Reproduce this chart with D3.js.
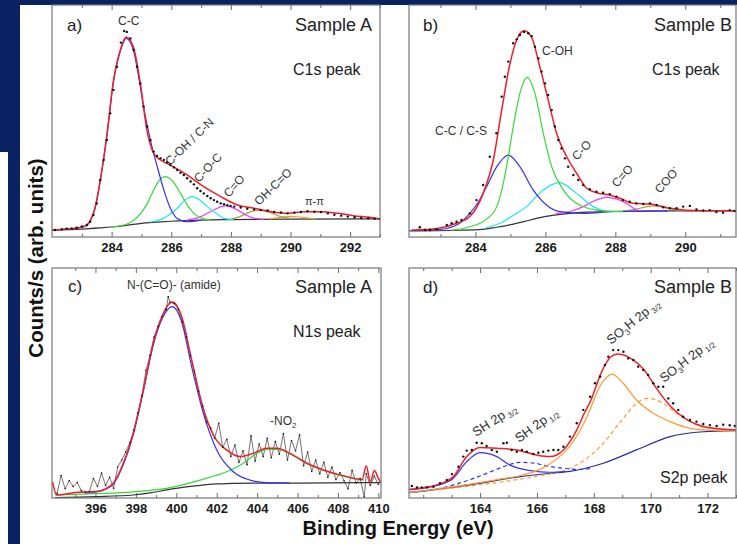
<!DOCTYPE html>
<html>
<head>
<meta charset="utf-8">
<script src="https://cdn.jsdelivr.net/npm/d3@7"></script>
<style>
  body { margin: 0; background: #fff; }
  svg { display: block; font-family: "Liberation Sans", Arial, sans-serif; }
</style>
</head>
<body>
<div id="chart"></div>
<script>
"use strict";

// ---- panel a : C1s, sample A ----
const aTicks = [284, 286, 288, 290, 292];
const aMinor = [283, 285, 287, 289, 291, 293];
const aDots = [[282.10,3.0],[282.33,3.3],[282.49,3.6],[282.66,3.7],[282.83,4.0],[283.0,4.5],[283.17,5.2],[283.28,6.6],[283.39,9.5],[283.50,14.5],[283.62,24.6],[283.73,33.2],[283.84,41.8],[283.95,53.3],[284.06,63.4],[284.18,73.4],[284.31,83.8],[284.42,88.8],[284.51,88.4],[284.63,85.6],[284.74,80.6],[284.85,73.4],[284.96,66.2],[285.07,56.2],[285.19,47.6],[285.30,41.8],[285.41,36.8],[285.52,34.9],[285.64,33.9],[285.75,33.2],[285.86,32.2],[285.97,31.0],[286.09,30.0],[286.20,28.9],[286.31,27.7],[286.42,26.7],[286.53,25.3],[286.65,23.9],[286.76,22.7],[286.87,21.0],[286.98,19.8],[287.09,18.8],[287.21,17.7],[287.32,16.7],[287.43,15.9],[287.54,15.2],[287.66,14.5],[287.77,14.1],[287.88,13.7],[287.99,13.4],[288.11,13.1],[288.33,12.7],[288.55,12.2],[288.78,11.9],[289.0,11.6],[289.23,11.4],[289.45,10.8],[289.68,10.6],[289.90,10.2],[290.13,10.5],[290.35,10.8],[290.57,11.1],[290.80,10.9],[291.02,10.8],[291.25,10.2],[291.47,9.6],[291.70,9.2],[291.92,8.8],[292.15,8.5],[292.37,8.2],[292.60,8.1],[292.82,7.9],[292.99,7.8]];
const aEnvelope = [[282.0,3.0],[282.5,3.4],[282.9,4.0],[283.15,5.0],[283.3,7.5],[283.45,13.0],[283.62,24.6],[283.85,44.8],[284.05,66.4],[284.29,80.6],[284.49,86.2],[284.73,81.9],[284.96,66.4],[285.19,45.5],[285.41,36.1],[285.64,33.2],[285.97,31.0],[286.54,26.7],[287.09,21.7],[287.66,17.4],[288.22,13.8],[288.78,12.4],[289.34,10.9],[289.9,10.2],[290.46,10.9],[291.02,10.9],[291.59,10.2],[292.15,9.1],[292.65,8.5],[293.0,7.8]];
const aBackground = [[282.0,3.0],[283.0,3.4],[283.6,3.9],[284.0,4.3],[284.5,5.0],[285.0,5.9],[285.5,6.4],[286.0,6.8],[287.0,7.3],[288.0,7.5],[290.0,7.7],[293.0,7.8]];
const aCC = [[282.0,3.0],[282.84,3.9],[283.15,4.9],[283.3,7.3],[283.45,12.6],[283.62,24.4],[283.85,44.5],[284.05,66.0],[284.29,80.0],[284.49,85.6],[284.73,80.5],[284.96,64.8],[285.07,56.2],[285.3,41.8],[285.53,30.3],[285.75,20.3],[285.97,12.4],[286.2,8.0],[286.54,6.6],[287.0,7.3]];
const aCOH = [[284.0,4.3],[284.5,5.5],[284.96,10.0],[285.2,14.5],[285.41,20.3],[285.6,24.5],[285.8,26.0],[286.05,24.0],[286.31,18.8],[286.55,13.5],[286.76,10.2],[287.0,8.2],[287.3,7.4]];
const aCOC = [[285.3,6.4],[285.8,8.5],[286.2,12.4],[286.45,15.8],[286.7,17.4],[286.95,16.0],[287.21,13.1],[287.5,10.2],[287.77,8.0],[288.1,7.4]];
const aCO = [[286.5,7.2],[287.0,8.8],[287.4,11.5],[287.82,13.4],[288.2,11.8],[288.5,9.5],[288.8,8.0],[289.1,7.6]];
const aOHCO = [[287.9,7.4],[288.3,8.8],[288.65,10.8],[288.95,11.6],[289.3,10.6],[289.7,8.7],[290.0,8.0]];
const aPiPi = [[289.3,7.7],[289.7,8.6],[290.0,8.9],[290.4,8.5],[290.8,7.9]];

// ---- panel b : C1s, sample B ----
const bTicks = [284, 286, 288, 290];
const bMinor = [283, 285, 287, 289, 291];
const bDots = [[282.41,4.2],[282.56,3.0],[282.70,3.0],[282.89,3.3],[283.18,5.2],[283.32,5.9],[283.46,6.6],[283.60,7.3],[283.84,10.2],[284.03,15.9],[284.22,22.4],[284.41,34.6],[284.60,44.7],[284.75,60.5],[284.84,69.1],[284.94,75.6],[285.08,83.5],[285.18,85.2],[285.27,87.1],[285.39,88.4],[285.51,87.8],[285.61,86.6],[285.70,82.0],[285.80,77.0],[285.89,71.3],[285.99,66.2],[286.08,61.2],[286.18,54.7],[286.27,47.6],[286.37,41.8],[286.46,38.2],[286.56,33.9],[286.65,30.3],[286.80,26.7],[286.94,24.6],[287.08,22.4],[287.27,20.6],[287.46,19.5],[287.65,19.1],[287.84,18.5],[288.03,17.4],[288.22,15.9],[288.41,15.2],[288.60,14.5],[288.80,14.2],[288.99,14.5],[289.18,13.8],[289.37,12.8],[289.56,12.4],[289.75,12.4],[289.94,13.1],[290.13,13.4],[290.32,11.9],[290.51,11.4],[290.70,11.6],[290.89,10.8],[291.08,10.5],[291.27,11.6],[291.41,11.2]];
const bEnvelope = [[282.18,3.0],[282.9,3.7],[283.46,5.9],[283.84,8.8],[284.22,18.8],[284.51,33.2],[284.75,54.7],[284.99,74.9],[285.22,86.3],[285.39,88.9],[285.6,86.3],[285.84,73.4],[286.08,59.1],[286.32,44.7],[286.61,34.6],[286.89,27.5],[287.18,21.0],[287.46,19.1],[287.84,18.1],[288.13,16.7],[288.51,14.5],[288.99,14.2],[289.56,12.4],[290.51,11.3],[291.45,11.3]];
const bBackground = [[282.1,2.6],[283.5,2.9],[284.2,3.3],[284.6,4.2],[285.0,5.3],[285.4,6.7],[285.75,8.0],[286.2,9.3],[286.7,10.2],[287.2,10.7],[287.65,10.9],[288.5,11.2],[291.45,11.3]];
const bCCCS = [[282.2,2.8],[283.0,3.3],[283.5,5.5],[283.84,10.2],[284.1,15.5],[284.32,21.7],[284.61,30.3],[284.94,35.3],[285.27,30.3],[285.65,20.3],[286.03,13.8],[286.41,10.9],[287.08,10.2],[288.0,11.0],[289.5,11.3]];
const bCOH = [[283.3,2.9],[283.84,4.4],[284.3,7.5],[284.61,13.1],[284.75,20.0],[284.89,30.3],[285.08,47.5],[285.27,61.9],[285.48,68.8],[285.7,61.9],[285.94,44.7],[286.18,30.3],[286.51,20.3],[286.89,14.5],[287.46,11.6],[288.22,10.9]];
const bCO = [[284.3,4.0],[284.79,6.6],[285.1,9.5],[285.46,13.1],[285.94,20.3],[286.41,23.4],[286.89,18.8],[287.37,13.1],[287.84,10.9],[288.3,10.9]];
const bCdO = [[286.3,10.1],[286.7,11.0],[287.08,13.1],[287.4,15.6],[287.75,17.1],[288.05,16.3],[288.32,14.5],[288.61,11.6],[288.89,11.0],[289.3,11.2]];
const bCOO = [[288.2,11.0],[288.6,12.0],[289.08,13.4],[289.5,12.4],[289.9,11.4],[290.2,11.3]];

// ---- panel c : N1s, sample A ----
const cTicks = [396, 398, 400, 402, 404, 406, 408, 410];
const cMinor = [395, 397, 399, 401, 403, 405, 407, 409];
const cRaw = [[394.1,2.0],[394.3,9.8],[394.5,4.0],[394.7,7.5],[394.9,5.0],[395.1,6.8],[395.3,3.2],[395.5,2.5],[395.7,2.8],[395.9,8.5],[396.1,5.0],[396.3,10.8],[396.5,5.5],[396.7,9.0],[396.9,4.2],[397.1,13.5],[397.3,16.5],[397.5,20.0],[397.7,24.0],[397.9,29.5],[398.1,37.0],[398.3,44.5],[398.5,55.5],[398.7,62.0],[398.9,70.0],[399.1,74.5],[399.3,79.0],[399.5,82.0],[399.6,87.5],[399.7,85.0],[399.9,84.5],[400.1,82.0],[400.3,76.5],[400.5,70.0],[400.7,62.0],[400.9,55.0],[401.1,46.5],[401.3,40.0],[401.5,33.0],[401.7,30.5],[401.9,26.0],[402.1,32.5],[402.3,22.0],[402.5,25.5],[402.7,18.0],[402.9,23.0],[403.1,15.5],[403.3,20.5],[403.5,14.5],[403.7,27.0],[403.9,16.0],[404.1,23.5],[404.3,18.0],[404.5,26.0],[404.7,17.5],[404.9,24.5],[405.1,19.0],[405.3,28.0],[405.5,16.5],[405.7,25.0],[405.9,20.5],[406.1,27.5],[406.3,14.0],[406.5,20.0],[406.7,11.5],[406.9,16.5],[407.1,10.5],[407.3,15.5],[407.5,9.0],[407.7,13.5],[407.9,8.0],[408.1,11.0],[408.3,7.5],[408.5,4.0],[408.7,12.0],[408.9,6.5],[409.1,8.5],[409.3,0.5],[409.4,10.5],[409.6,5.5],[409.8,9.5],[410.0,6.0]];
const cEnvelope = [[393.88,7.0],[394.08,1.3],[395.0,2.4],[396.0,2.8],[396.5,4.0],[396.88,6.4],[397.38,15.1],[397.87,28.1],[398.37,47.0],[398.86,67.3],[399.36,80.3],[399.8,85.3],[400.27,78.8],[400.76,60.0],[401.26,41.2],[401.83,27.4],[402.49,20.9],[403.15,18.0],[403.81,19.4],[404.47,21.6],[404.97,21.6],[405.63,19.4],[406.46,15.1],[407.28,12.2],[408.44,9.3],[409.2,8.0],[409.4,14.0],[409.6,7.0],[409.8,12.0],[410.0,8.5],[410.13,6.5]];
const cAmide = [[395.5,2.2],[396.0,2.5],[396.5,3.8],[396.88,6.0],[397.38,14.5],[397.87,27.5],[398.37,46.5],[398.86,66.5],[399.36,79.0],[399.8,83.2],[400.27,76.5],[400.76,57.1],[401.34,36.8],[402.0,20.9],[402.82,11.4],[403.65,7.8],[404.47,6.7],[405.6,6.6]];
const cNO2 = [[394.0,1.3],[396.0,1.9],[397.87,2.7],[399.52,4.2],[401.18,7.8],[402.49,11.4],[403.32,15.1],[403.98,19.4],[404.56,21.2],[405.1,21.0],[405.63,19.2],[406.46,15.0],[407.28,12.0],[408.44,9.2],[409.3,7.8]];
const cBackground = [[394.0,0.2],[396.0,0.6],[397.87,1.3],[398.7,2.2],[399.52,3.5],[400.3,4.6],[401.18,5.5],[402.0,6.1],[402.82,6.4],[406.1,6.5],[409.3,6.7],[410.1,6.7]];

// ---- panel d : S2p, sample B ----
const dTicks = [164, 166, 168, 170, 172];
const dMinor = [162, 163, 165, 167, 169, 171, 173];
const dDots = [[161.6,5.2],[161.78,4.6],[161.95,4.6],[162.13,4.6],[162.36,4.9],[162.59,6.4],[162.83,7.8],[163.01,10.4],[163.24,13.6],[163.41,18.0],[163.53,20.6],[163.71,20.9],[163.88,24.0],[164.06,23.8],[164.23,22.6],[164.41,20.9],[164.59,20.1],[164.82,23.8],[164.94,24.0],[165.11,20.9],[165.29,20.1],[165.47,20.9],[165.64,20.1],[165.87,19.1],[166.05,19.7],[166.22,20.1],[166.4,20.6],[166.58,20.9],[166.75,20.9],[166.93,22.3],[167.16,26.7],[167.4,32.5],[167.63,38.3],[167.87,44.0],[168.04,49.9],[168.22,52.7],[168.39,57.8],[168.51,61.4],[168.68,64.3],[168.86,64.3],[169.04,63.6],[169.21,60.7],[169.39,60.0],[169.56,57.1],[169.74,55.7],[169.91,53.5],[170.09,49.9],[170.27,48.4],[170.44,48.4],[170.62,43.3],[170.79,41.2],[170.97,38.3],[171.14,35.3],[171.38,33.9],[171.61,33.2],[171.85,32.2],[172.08,31.7],[172.32,31.3],[172.55,31.9],[172.78,31.6],[172.96,31.3]];
const dEnvelope = [[161.54,3.8],[162.0,4.5],[162.48,5.7],[163.06,9.3],[163.53,18.0],[164.0,22.0],[164.59,21.6],[165.29,20.9],[165.99,18.7],[166.46,18.0],[166.93,20.9],[167.4,29.6],[167.65,36.5],[167.9,42.6],[168.25,54.2],[168.6,61.4],[168.83,62.6],[169.3,60.7],[169.77,55.7],[170.24,47.0],[170.71,39.7],[171.3,33.9],[171.88,31.0],[172.5,30.0],[173.0,29.6]];
const dBackground = [[161.5,2.3],[163.65,5.7],[165.41,9.3],[166.5,10.8],[167.16,11.6],[168.33,15.1],[169.5,20.9],[170.68,26.7],[171.86,28.8],[173.0,29.3]];
const dSH32 = [[161.5,3.6],[162.5,5.5],[163.06,8.6],[163.53,15.8],[164.0,19.7],[164.59,18.0],[165.05,14.3],[165.76,11.9],[166.46,11.2],[167.0,11.5]];
const dSH12 = [[161.5,2.5],[162.3,3.5],[163.06,5.7],[163.7,8.2],[164.23,10.7],[164.82,13.6],[165.41,15.5],[165.9,15.2],[166.22,14.3],[166.93,12.9],[167.63,12.4],[167.9,13.0]];
const dSO3H32 = [[161.5,2.4],[163.0,4.8],[164.5,7.8],[165.5,10.0],[166.2,13.0],[166.7,17.0],[167.16,22.5],[167.5,29.0],[167.75,35.0],[168.0,42.5],[168.21,48.5],[168.45,52.5],[168.63,53.9],[169.03,49.9],[169.5,42.6],[170.09,36.8],[170.68,33.2],[171.38,30.3],[172.2,29.4],[173.0,29.3]];
const dSO3H12 = [[161.5,2.3],[163.0,4.3],[164.82,7.1],[166.0,9.5],[167.16,12.9],[167.75,17.2],[168.33,23.8],[169.03,34.6],[169.5,41.2],[169.9,43.3],[170.44,41.2],[170.91,36.8],[171.38,33.2],[172.08,30.3],[173.0,29.6]];

const navy = "#0b2262";
const red = "#f0202a", blue = "#3434ee", green = "#38d838", cyan = "#22e6f2",
  magenta = "#f23cf0", olive = "#a2a040", orange = "#ff9a2e", bgLine = "#333";

const W = 737, H = 544;
const svg = d3.select("#chart").append("svg").attr("width", W).attr("height", H);

svg.append("rect").attr("width", W).attr("height", H).attr("fill", "#fff");
svg.append("rect").attr("x", 0).attr("y", 0).attr("width", W).attr("height", 5).attr("fill", navy);
svg.append("rect").attr("x", 0).attr("y", 0).attr("width", 20).attr("height", 152).attr("fill", navy);
svg.append("rect").attr("x", 8).attr("y", 152).attr("width", 12).attr("height", H - 152).attr("fill", navy);

let clipId = 0;
function drawPanel(p) {
  const x = d3.scaleLinear().domain(p.domain).range([p.left, p.right]);
  const y = d3.scaleLinear().domain([0, 100]).range([p.bottom, p.top]);
  const g = svg.append("g");

  const id = "clip" + clipId++;
  g.append("clipPath").attr("id", id).append("rect")
    .attr("x", p.left).attr("y", p.top)
    .attr("width", p.right - p.left).attr("height", p.bottom - p.top);

  // ticks, pointing inward, on bottom and top
  const axes = [
    [d3.axisBottom(x).tickValues(p.minor).tickSize(-3).tickFormat(""), p.bottom],
    [d3.axisBottom(x).tickValues(p.ticks).tickSize(-5).tickPadding(6).tickFormat(d3.format("d")), p.bottom],
    [d3.axisTop(x).tickValues(p.minor).tickSize(-3).tickFormat(""), p.top],
    [d3.axisTop(x).tickValues(p.ticks).tickSize(-5).tickFormat(""), p.top],
  ];
  axes.forEach(([ax, yy]) => {
    const a = g.append("g").attr("transform", "translate(0," + yy + ")").call(ax.tickSizeOuter(0));
    a.select(".domain").remove();
    a.selectAll("line").attr("stroke", "#6a6a6a");
    a.selectAll("text").attr("font-size", 13).attr("font-weight", "bold")
      .attr("fill", "#1a1a1a").attr("font-family", "Liberation Sans, Arial, sans-serif");
  });

  const plot = g.append("g").attr("clip-path", "url(#" + id + ")");
  const line = d3.line().x((d) => x(d[0])).y((d) => y(d[1])).curve(d3.curveMonotoneX);

  p.curves.forEach((c) => {
    plot.append("path")
      .datum(c.data)
      .attr("fill", "none")
      .attr("stroke", c.color)
      .attr("stroke-width", c.width || 1.2)
      .attr("stroke-dasharray", c.dash || null)
      .attr("d", c.raw ? d3.line().x((d) => x(d[0])).y((d) => y(d[1]))(c.data) : line(c.data));
  });

  if (p.dots) {
    plot.selectAll(null)
      .data(p.dots)
      .enter()
      .append("circle")
      .attr("cx", (d) => x(d[0]))
      .attr("cy", (d) => y(d[1]))
      .attr("r", p.dotR || 1.2)
      .attr("fill", "#111");
  }

  g.append("rect")
    .attr("x", p.left).attr("y", p.top)
    .attr("width", p.right - p.left).attr("height", p.bottom - p.top)
    .attr("fill", "none").attr("stroke", "#777").attr("stroke-width", 1.2);
  return g;
}

function label(g, txt, xx, yy, opts) {
  opts = opts || {};
  const t = g.append("text")
    .attr("transform", "translate(" + xx + "," + yy + ")" + (opts.rot ? " rotate(" + opts.rot + ")" : ""))
    .attr("font-size", opts.size || 12)
    .attr("fill", opts.color || "#333")
    .attr("text-anchor", opts.anchor || "start");
  if (Array.isArray(txt)) {
    txt.forEach((s) => {
      t.append("tspan").attr("font-size", s.size || null).attr("dy", s.dy || 0).text(s.t);
    });
  } else {
    t.text(txt);
  }
  return t;
}

// panel a
const ga = drawPanel({
  left: 52, right: 380, top: 5, bottom: 237, domain: [282, 293],
  ticks: aTicks, minor: aMinor, dots: aDots,
  curves: [
    { data: aBackground, color: bgLine },
    { data: aPiPi, color: orange },
    { data: aOHCO, color: olive },
    { data: aCO, color: magenta },
    { data: aCOC, color: cyan },
    { data: aCOH, color: green },
    { data: aCC, color: blue },
    { data: aEnvelope, color: red, width: 1.5 },
  ],
});
label(ga, "a)", 67, 31, { size: 17, color: "#222" });
label(ga, "Sample A", 372, 31, { size: 18, color: "#222", anchor: "end" });
label(ga, "C1s peak", 293, 75, { size: 16, color: "#222" });
label(ga, "C-C", 118, 25);
label(ga, "C-OH / C-N", 170, 166, { rot: -44 });
label(ga, "C-O-C", 199, 183, { rot: -47 });
label(ga, "C=O", 229, 198, { rot: -49 });
label(ga, "OH-C=O", 259, 206, { rot: -44 });
label(ga, "π-π", 305, 205, { size: 11 });

// panel b
const gb = drawPanel({
  left: 409, right: 736, top: 5, bottom: 237, domain: [282.1, 291.45],
  ticks: bTicks, minor: bMinor, dots: bDots,
  curves: [
    { data: bBackground, color: bgLine },
    { data: bCOO, color: olive },
    { data: bCdO, color: magenta },
    { data: bCO, color: cyan },
    { data: bCCCS, color: blue },
    { data: bCOH, color: green },
    { data: bEnvelope, color: red, width: 1.5 },
  ],
});
label(gb, "b)", 423, 31, { size: 17, color: "#222" });
label(gb, "Sample B", 732, 31, { size: 18, color: "#222", anchor: "end" });
label(gb, "C1s peak", 652, 75, { size: 16, color: "#222" });
label(gb, "C-OH", 542, 55);
label(gb, "C-C / C-S", 435, 135);
label(gb, "C-O", 577, 161, { rot: -47 });
label(gb, "C=O", 617, 188, { rot: -48 });
label(gb, [{ t: "COO" }, { t: "-", size: 9, dy: -5 }], 660, 194, { rot: -48 });

// panel c
const gc = drawPanel({
  left: 52, right: 381, top: 268, bottom: 498, domain: [393.85, 410.13],
  ticks: cTicks, minor: cMinor, dots: cRaw, dotR: 0.8,
  curves: [
    { data: cRaw, color: "#3a3a3a", width: 0.7, raw: true },
    { data: cBackground, color: bgLine },
    { data: cNO2, color: green },
    { data: cAmide, color: blue },
    { data: cEnvelope, color: red, width: 1.5 },
  ],
});
label(gc, "c)", 68, 292, { size: 17, color: "#222" });
label(gc, "Sample A", 372, 293, { size: 18, color: "#222", anchor: "end" });
label(gc, "N1s peak", 293, 337, { size: 16, color: "#222" });
label(gc, "N-(C=O)- (amide)", 127, 289);
label(gc, [{ t: "-NO" }, { t: "2", size: 8, dy: 3 }], 270, 425);

// panel d
const gd = drawPanel({
  left: 409, right: 736, top: 268, bottom: 498, domain: [161.5, 173.0],
  ticks: dTicks, minor: dMinor, dots: dDots,
  curves: [
    { data: dBackground, color: "#2a2aa6" },
    { data: dSO3H12, color: orange, dash: "4,3" },
    { data: dSH12, color: blue, dash: "4,3" },
    { data: dSH32, color: blue },
    { data: dSO3H32, color: orange },
    { data: dEnvelope, color: red, width: 1.5 },
  ],
});
label(gd, "d)", 423, 293, { size: 17, color: "#222" });
label(gd, "Sample B", 732, 293, { size: 18, color: "#222", anchor: "end" });
label(gd, "S2p peak", 660, 483, { size: 16, color: "#222" });
label(gd, [{ t: "SH 2p" }, { t: " 3/2", size: 8, dy: 3 }], 476, 437, { rot: -33, size: 13 });
label(gd, [{ t: "SH 2p" }, { t: " 1/2", size: 8, dy: 3 }], 519, 443, { rot: -36, size: 13 });
label(gd, [{ t: "SO" }, { t: "3", size: 8, dy: 3 }, { t: "H 2p", dy: -3 }, { t: " 3/2", size: 8, dy: 3 }], 611, 345, { rot: -39, size: 13 });
label(gd, [{ t: "SO" }, { t: "3", size: 8, dy: 3 }, { t: "H 2p", dy: -3 }, { t: " 1/2", size: 8, dy: 3 }], 664, 383, { rot: -38, size: 13 });

// axis titles
svg.append("text")
  .attr("transform", "translate(43,258) rotate(-90)")
  .attr("text-anchor", "middle")
  .attr("font-size", 20.5).attr("font-weight", "bold").attr("fill", "#111")
  .text("Counts/s (arb. units)");
svg.append("text")
  .attr("x", 398).attr("y", 535)
  .attr("text-anchor", "middle")
  .attr("font-size", 20).attr("font-weight", "bold").attr("fill", "#111")
  .text("Binding Energy (eV)");
</script>
</body>
</html>
